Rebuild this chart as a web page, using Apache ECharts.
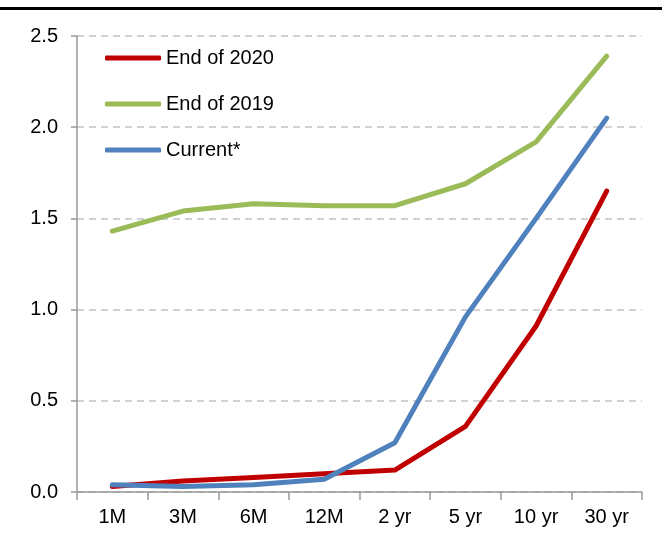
<!DOCTYPE html>
<html><head><meta charset="utf-8">
<script src="https://cdn.jsdelivr.net/npm/echarts@6/dist/echarts.min.js"></script>
<style>html,body{margin:0;padding:0;background:#fff}#c{width:662px;height:544px}</style>
</head><body><div id="c"></div>
<script>
var categories = ['1M','3M','6M','12M','2 yr','5 yr','10 yr','30 yr'];
var end2020 = [0.03,0.06,0.08,0.10,0.12,0.36,0.91,1.65];
var end2019 = [1.43,1.54,1.58,1.57,1.57,1.69,1.92,2.39];
var current = [0.04,0.03,0.04,0.07,0.27,0.96,1.50,2.05];
var yTicks = {min:0, max:2.5, interval:0.5};

var chart = echarts.init(document.getElementById('c'), null, {renderer:'canvas'});
var font = 'Liberation Sans, Arial, sans-serif';
function mk(name, data, color){
  return {name:name, type:'line', data:data, symbol:'none', smooth:false,
    lineStyle:{width:5, color:color, cap:'round', join:'round'}, itemStyle:{color:color}, z:3};
}
chart.setOption({
  animation:false,
  graphic:[{type:'rect', shape:{x:0,y:7,width:662,height:3}, style:{fill:'#000'}}],
  grid:{left:77, right:20, top:36, bottom:52, containLabel:false},
  legend:{orient:'vertical', left:105, top:48, itemWidth:56, itemHeight:5, itemGap:26, padding:0,
    icon:'roundRect',
    textStyle:{fontFamily:font, fontSize:20, color:'#000'},
    data:['End of 2020','End of 2019','Current*']},
  xAxis:{type:'category', data:categories, boundaryGap:true,
    axisLine:{lineStyle:{color:'#999', width:1.5}},
    axisTick:{show:true, interval:0, length:8, lineStyle:{color:'#999', width:1.5}},
    axisLabel:{fontFamily:font, fontSize:20, color:'#000', margin:15, interval:0},
    splitLine:{show:false}},
  yAxis:{type:'value', min:yTicks.min, max:yTicks.max, interval:yTicks.interval,
    axisLine:{show:true, lineStyle:{color:'#999', width:1.5}},
    axisTick:{show:true, length:6, lineStyle:{color:'#999', width:1.5}},
    axisLabel:{fontFamily:font, fontSize:20, color:'#000', margin:19,
      formatter:function(v){return v.toFixed(1);}},
    splitLine:{show:true, lineStyle:{color:'#c4c4c4', type:[7,5], width:1.5}}},
  series:[mk('End of 2020', end2020, '#C00000'), mk('End of 2019', end2019, '#9BBB59'), mk('Current*', current, '#4F81BD')]
});
</script></body></html>
